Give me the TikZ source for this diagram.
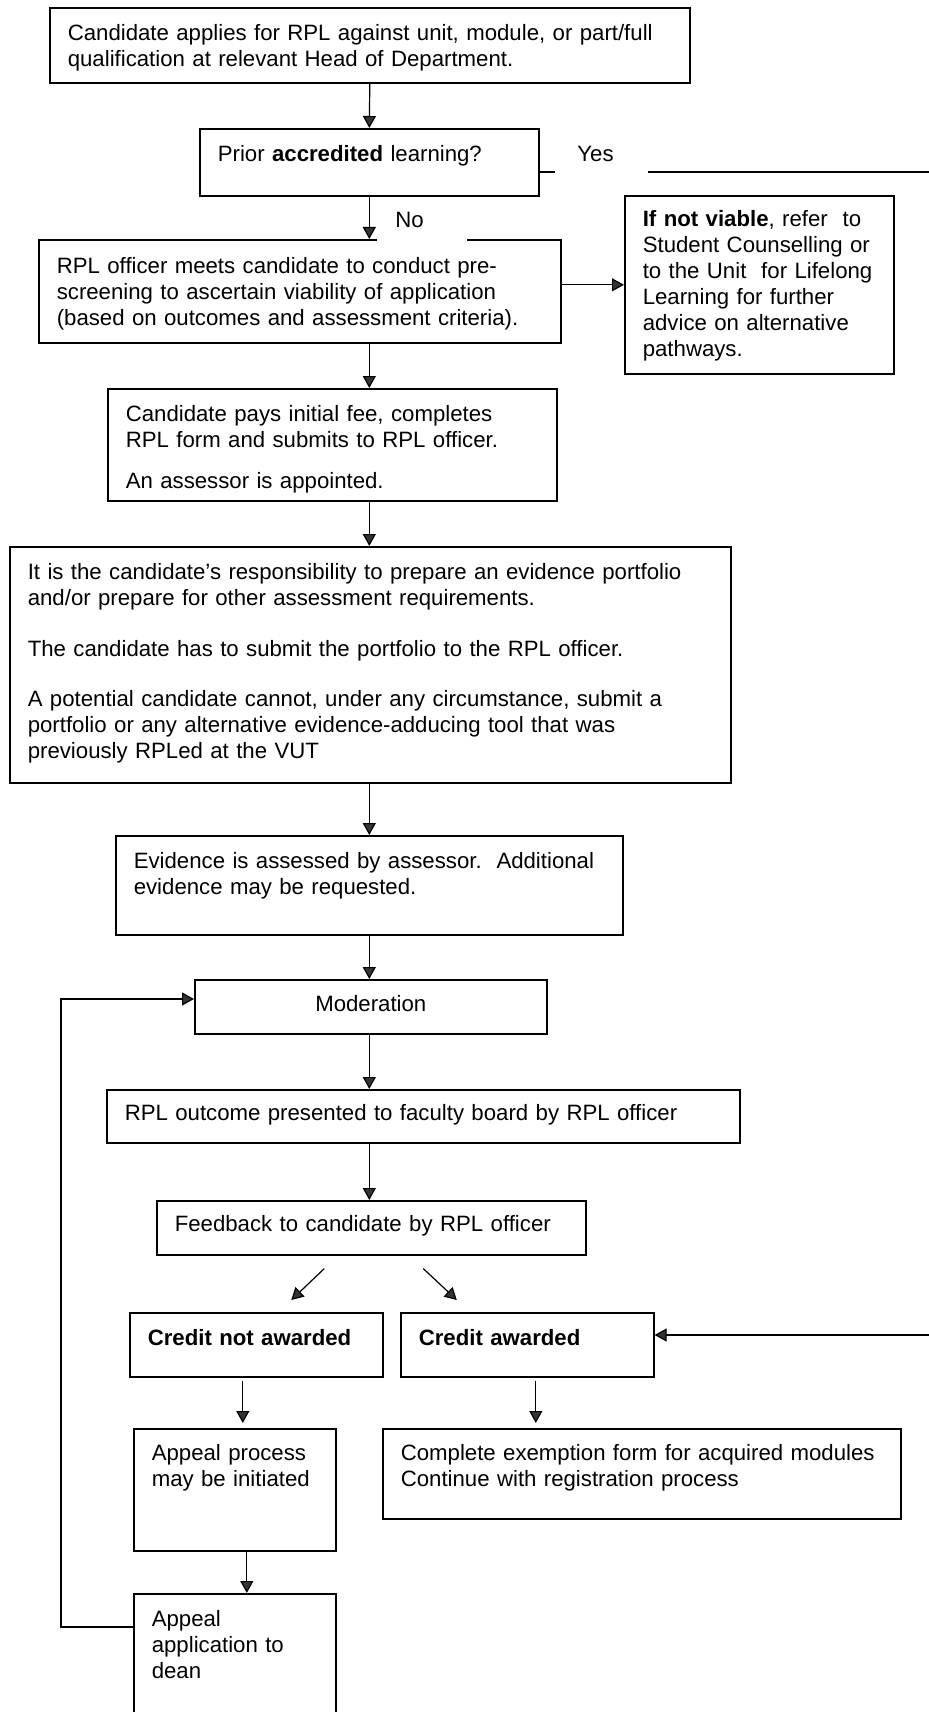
\documentclass[tikz,border=0pt]{standalone}
\usepackage{fontspec}
\setmainfont{Liberation Sans}
\usetikzlibrary{arrows.meta,calc}

\begin{document}
\begin{tikzpicture}[x=0.5pt,y=-0.5pt,
  box/.style={draw,line width=0.8pt,anchor=north west,align=left,inner xsep=9pt,inner ysep=0pt,
              font=\fontsize{11.1}{13}\selectfont},
  lbl/.style={fill=white,anchor=north west,align=left,inner ysep=0pt,
              font=\fontsize{11.1}{13}\selectfont},
  arr/.style={-{Triangle[width=6.5pt,length=6pt,fill=black!80]},line width=0.6pt}]
  \useasboundingbox (0,0) rectangle (929,1712);
  \node[box,text width=302pt,text height=16.5pt,text depth=21pt](n1) at (49,7) {Candidate applies for RPL against unit, module, or part/full\\qualification at relevant Head of Department.};
  \node[box,text width=151.5pt,text height=16.5pt,text depth=17pt](n2) at (199,128) {Prior \textbf{accredited} learning?};
  \node[box,text width=243pt,text height=17pt,text depth=34.5pt](n3) at (38,239) {RPL officer meets candidate to conduct pre-\\screening to ascertain viability of application\\(based on outcomes and assessment criteria).};
  \node[box,text width=116.5pt,text height=15.5pt,text depth=73.5pt](n4) at (624,195) {\textbf{If not viable}, refer\ \ to\\Student Counselling or\\to the Unit\ \ for Lifelong\\Learning for further\\advice on alternative\\pathways.};
  \node[box,text width=206.5pt,text height=16.5pt,text depth=39.5pt](n5) at (107,388) {Candidate pays initial fee, completes\\RPL form and submits to RPL officer.\\[7.5pt]An assessor is appointed.};
  \node[box,text width=342.5pt,text height=16.5pt,text depth=101.5pt](n6) at (9,546) {It is the candidate's responsibility to prepare an evidence portfolio\\and/or prepare for other assessment requirements.\\[12.5pt]The candidate has to submit the portfolio to the RPL officer.\\[12pt]A potential candidate cannot, under any circumstance, submit a\\portfolio or any alternative evidence-adducing tool that was\\previously RPLed at the VUT};
  \node[box,text width=235.5pt,text height=16.5pt,text depth=33pt](n7) at (115,835) {Evidence is assessed by assessor.\ \ Additional\\evidence may be requested.};
  \node[box,align=center,text width=158pt,text height=16pt,text depth=11pt](n8) at (194,979) {Moderation};
  \node[box,text width=298.5pt,text height=15.5pt,text depth=11pt](n9) at (106,1089) {RPL outcome presented to faculty board by RPL officer};
  \node[box,text width=196.5pt,text height=15.5pt,text depth=11.5pt](n10) at (156,1200) {Feedback to candidate by RPL officer};
  \node[box,text width=108.5pt,text height=16.5pt,text depth=15.5pt](n11) at (129,1312) {\textbf{Credit not awarded}};
  \node[box,text width=108.5pt,text height=16.5pt,text depth=15.5pt](n12) at (400,1312) {\textbf{Credit awarded}};
  \node[box,text width=83pt,text height=16pt,text depth=45pt](n13) at (133,1428) {Appeal process\\may be initiated};
  \node[box,text width=241pt,text height=16pt,text depth=29pt](n14) at (382,1428) {Complete exemption form for acquired modules\\Continue with registration process};
  \node[box,text width=83pt,text height=16.5pt,text depth=73.5pt](n15) at (133,1593) {Appeal\\application to\\dean};
  \coordinate (c1) at (945,172);
  \coordinate (c2) at (945,1335);
  \coordinate (c3) at (61,1627);
  \coordinate (c4) at (61,999);
  \draw[arr](n1.south)--(n2.north);
  \draw[arr](n2.south)--(n2.south|-n3.north);
  \draw[arr](n3.south-|n2.south)--(n5.north-|n2.south);
  \draw[arr](n5.south-|n2.south)--(n6.north-|n2.south);
  \draw[arr](n6.south-|n2.south)--(n7.north-|n2.south);
  \draw[arr](n7.south-|n2.south)--(n8.north-|n2.south);
  \draw[arr](n8.south-|n2.south)--(n9.north-|n2.south);
  \draw[arr](n9.south-|n2.south)--(n10.north-|n2.south);
  \draw[arr](n3.east|-n4.west)--(n4.west);
  \draw[arr](n2.east|-c1)--(c1)--(c2)--(c2-|n12.east);
  \draw[arr]($(n10.south)+(-47,13)$)--($(n11.north)+(35,-12)$);
  \draw[arr]($(n10.south)+(52,13)$)--($(n12.north)+(-70.5,-12)$);
  \draw[arr,shorten <=1.5pt,shorten >=2.5pt]([xshift=-6.75pt]n11.south)--([xshift=-6.75pt]n11.south|-n13.north);
  \draw[arr,shorten <=1.5pt,shorten >=2.5pt]([xshift=4.25pt]n12.south)--([xshift=4.25pt]n12.south|-n14.north);
  \draw[arr]([xshift=6pt]n13.south)--([xshift=6pt]n15.north);
  \draw[arr](n15.west|-c3)--(c3)--(c4)--(c4-|n8.west);
  \node[lbl,inner xsep=11pt,text width=24.5pt,text height=10.5pt,text depth=7.5pt](l1) at (555,140) {Yes};
  \node[lbl,inner xsep=9pt,text width=27pt,text height=11pt,text depth=7.5pt](l2) at (377,205) {No};
\end{tikzpicture}
\end{document}
